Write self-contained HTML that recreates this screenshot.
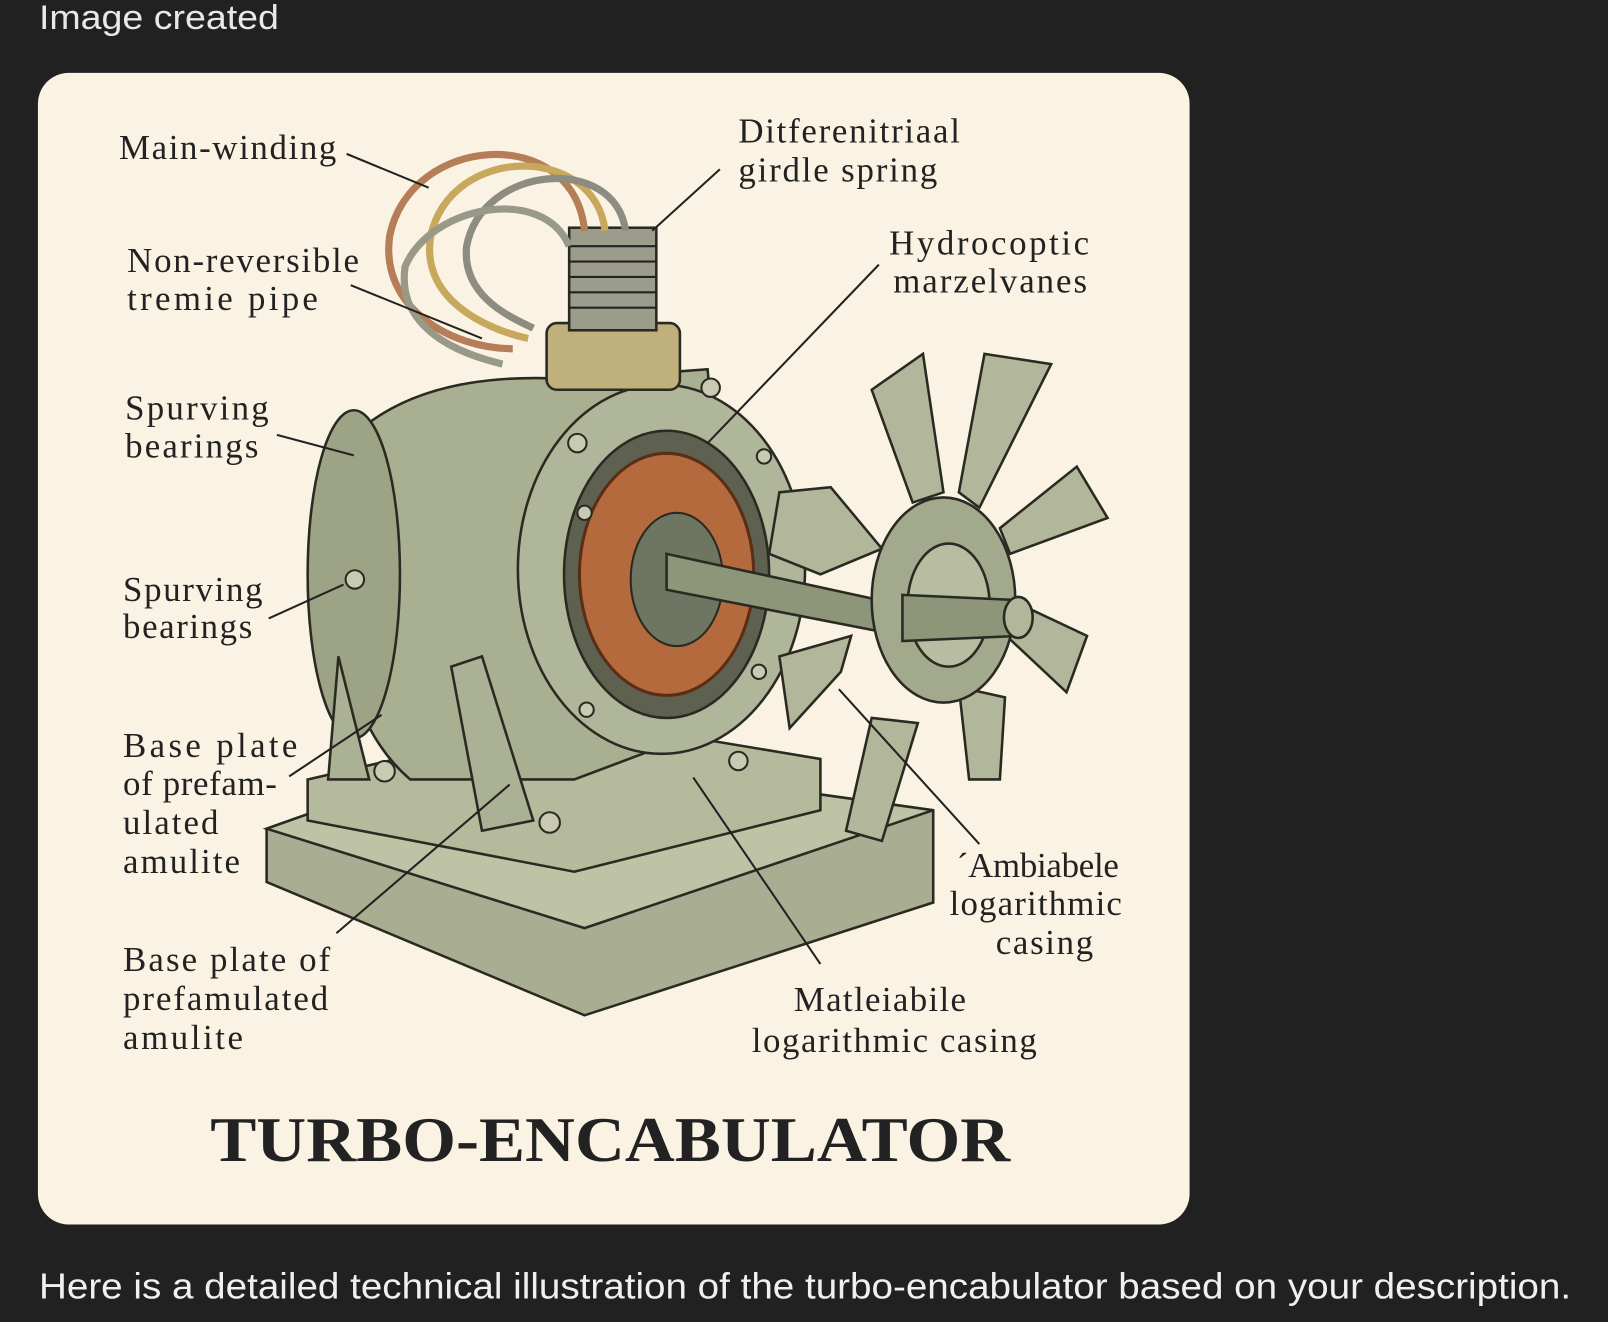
<!DOCTYPE html>
<html><head><meta charset="utf-8"><style>
html,body{margin:0;padding:0;background:#212121;width:1608px;height:1322px;overflow:hidden}
svg{display:block}
.l{font-family:"Liberation Serif",serif;font-size:34px;fill:#222}
.ln{stroke:#222;stroke-width:2;fill:none}
.o{stroke:#2a2a22;stroke-width:2.5}
</style></head><body>
<svg width="1608" height="1322" viewBox="0 0 1568 1289" xmlns="http://www.w3.org/2000/svg">
<rect width="1568" height="1289" fill="#212121"/>
<text x="38" y="28" font-family="Liberation Sans,sans-serif" font-size="33" fill="#e8e8e8" textLength="234" lengthAdjust="spacingAndGlyphs">Image created</text>
<rect x="37" y="71" width="1123" height="1123" rx="30" fill="#faf3e3"/>
<!-- base plate -->
<polygon class="o" points="260,808 480,730 910,790 910,880 570,990 260,860" fill="#a9ae92"/>
<polygon class="o" points="260,808 480,730 910,790 570,905" fill="#bfc3a6"/>
<polygon class="o" points="300,760 560,700 800,740 800,790 560,850 300,800" fill="#b5ba9c"/>
<!-- housing body -->
<path class="o" d="M350,420 Q420,360 560,370 L690,360 L720,700 L560,760 L400,760 Q330,700 330,560 Z" fill="#a9b091"/>
<ellipse class="o" cx="345" cy="560" rx="45" ry="160" fill="#9da486"/>
<path class="o" d="M470,640 L520,800 L470,810 L440,650 Z" fill="#aab194"/>
<path class="o" d="M330,640 L360,760 L320,760 Z" fill="#aab194"/>
<!-- flange -->
<ellipse class="o" cx="645" cy="555" rx="140" ry="180" fill="#b0b699"/>
<ellipse class="o" cx="650" cy="560" rx="100" ry="140" fill="#5e6150"/>
<ellipse cx="650" cy="560" rx="85" ry="118" fill="#b56a3e" stroke="#5a2e14" stroke-width="3"/>
<ellipse cx="660" cy="565" rx="45" ry="65" fill="#6e7560" stroke="#2a2a22" stroke-width="2"/>
<g fill="#c8cbb2" stroke="#2a2a22" stroke-width="2">
<circle cx="563" cy="432" r="9"/><circle cx="570" cy="500" r="7"/><circle cx="572" cy="692" r="7"/><circle cx="745" cy="445" r="7"/><circle cx="740" cy="655" r="7"/><circle cx="693" cy="378" r="9"/><circle cx="346" cy="565" r="9"/><circle cx="375" cy="752" r="10"/><circle cx="536" cy="802" r="10"/><circle cx="720" cy="742" r="9"/></g>
<!-- shaft -->
<polygon class="o" points="650,540 880,590 880,620 650,575" fill="#8e967a"/>
<!-- fan -->
<g fill="#b2b79c" stroke="#2a2a22" stroke-width="2.5">
<path d="M850,380 L900,345 L920,480 L890,490 Z"/>
<path d="M960,345 L1025,355 L955,495 L935,480 Z"/>
<path d="M1050,455 L1080,505 L985,540 L975,515 Z"/>
<path d="M1060,620 L1040,675 L960,600 L975,580 Z"/>
<path d="M935,670 L980,680 L975,760 L945,760 Z"/>
<path d="M850,700 L895,705 L860,820 L825,810 Z"/>
<path d="M760,640 L830,620 L820,655 L770,710 Z"/>
<path d="M760,480 L810,475 L860,535 L800,560 L750,540 Z"/>
<ellipse cx="920" cy="585" rx="70" ry="100" fill="#a3a98c"/>
<ellipse cx="925" cy="590" rx="40" ry="60" fill="#b8bda2"/>
<polygon points="880,580 990,585 995,620 880,625" fill="#8e967a"/>
<ellipse cx="993" cy="602" rx="14" ry="20"/>
</g>
<!-- spring/top -->
<rect class="o" x="533" y="315" width="130" height="65" rx="10" fill="#c0b07c"/>
<rect class="o" x="555" y="222" width="85" height="100" fill="#9c9c8a"/>
<g class="ln"><path d="M555,240h85M555,255h85M555,270h85M555,285h85M555,300h85"/></g>
<!-- wires -->
<g fill="none" stroke-width="7">
<path d="M570,225 C560,120 400,130 380,230 C370,300 440,340 500,340" stroke="#b57d58"/>
<path d="M590,225 C580,140 440,140 420,230 C410,290 470,320 515,330" stroke="#c7a85c"/>
<path d="M610,225 C600,150 470,160 455,240 C450,290 500,310 520,320" stroke="#8c8c80"/>
<path d="M555,240 C530,180 420,200 395,260 C385,330 470,350 490,355" stroke="#999988"/>
</g>
<!-- leaders -->
<g class="ln">
<path d="M338,150 L418,183"/><path d="M342,278 L470,330"/><path d="M270,424 L345,444"/>
<path d="M262,603 L335,570"/><path d="M282,757 L372,697"/><path d="M328,910 L497,765"/>
<path d="M702,165 L636,225"/><path d="M857,258 L690,432"/><path d="M955,823 L818,672"/>
<path d="M800,940 L676,758"/>
</g>
<g class="l" lengthAdjust="spacingAndGlyphs">
<text x="116" y="155" textLength="212">Main-winding</text>
<text x="124" y="265" textLength="226">Non-reversible</text><text x="124" y="302" textLength="186">tremie  pipe</text>
<text x="122" y="409" textLength="140">Spurving</text><text x="122" y="446" textLength="130">bearings</text>
<text x="120" y="586" textLength="136">Spurving</text><text x="120" y="622" textLength="126">bearings</text>
<text x="120" y="738" textLength="170">Base  plate</text><text x="120" y="775" textLength="150">of prefam-</text><text x="120" y="813" textLength="93">ulated</text><text x="120" y="851" textLength="114">amulite</text>
<text x="120" y="947" textLength="202">Base plate of</text><text x="120" y="985" textLength="200">prefamulated</text><text x="120" y="1023" textLength="117">amulite</text>
<text x="720" y="139" textLength="216">Ditferenitriaal</text><text x="720" y="177" textLength="194">girdle spring</text>
<text x="867" y="248" textLength="195">Hydrocoptic</text><text x="871" y="285" textLength="189">marzelvanes</text>
<text x="933" y="855" textLength="158">´Ambiabele</text><text x="926" y="892" textLength="168">logarithmic</text><text x="971" y="930" textLength="95">casing</text>
<text x="774" y="986" textLength="168">Matleiabile</text><text x="733" y="1026" textLength="278">logarithmic casing</text>
</g>
<text x="205" y="1132" font-family="Liberation Serif,serif" font-weight="bold" font-size="62" fill="#222" textLength="780" lengthAdjust="spacingAndGlyphs">TURBO-ENCABULATOR</text>
<text x="38" y="1266" font-family="Liberation Sans,sans-serif" font-size="35" fill="#f0f0f0" textLength="1494" lengthAdjust="spacingAndGlyphs">Here is a detailed technical illustration of the turbo-encabulator based on your description.</text>
</svg>
</body></html>
